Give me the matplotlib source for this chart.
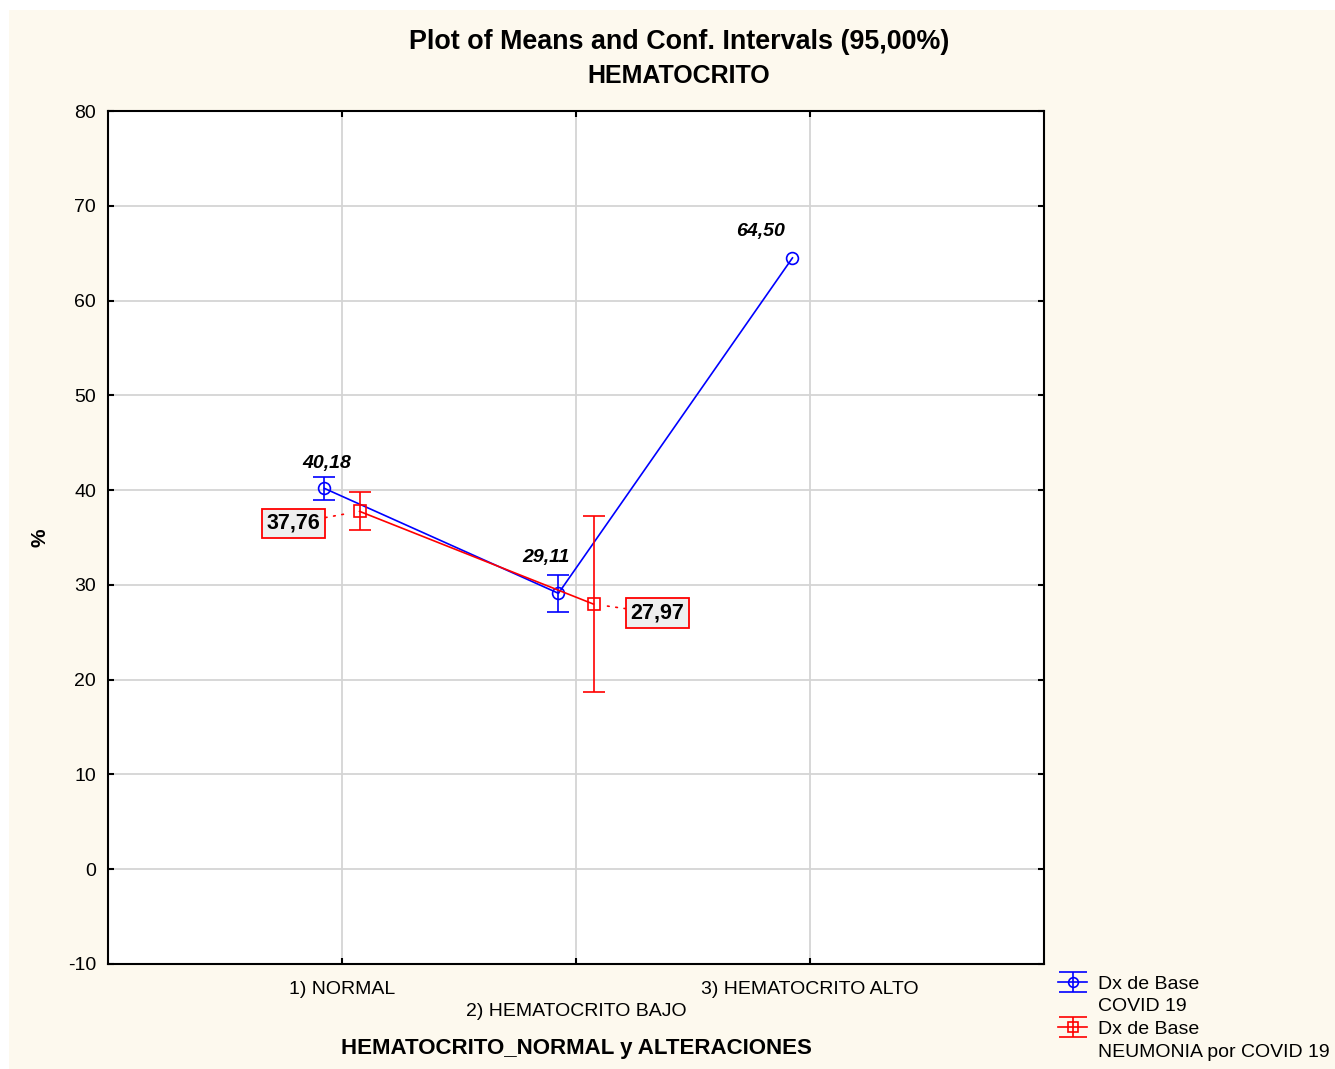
import numpy as np
import matplotlib
matplotlib.use('Agg')
import matplotlib.pyplot as plt
from matplotlib.patches import Rectangle
from matplotlib.lines import Line2D
from matplotlib.legend_handler import HandlerErrorbar

plt.rcParams['font.family'] = ['Liberation Sans', 'DejaVu Sans']
plt.rcParams['axes.unicode_minus'] = False

# data
categories = ['1) NORMAL', '2) HEMATOCRITO BAJO', '3) HEMATOCRITO ALTO']
covid_mean = [40.18, 29.11, 64.50]
covid_ci = [1.20, 1.95, np.nan]   # 95% CI half width (no CI for the last group)
neum_mean = [37.76, 27.97]
neum_ci = [2.02, 9.30]
y_ticks = [-10, 0, 10, 20, 30, 40, 50, 60, 70, 80]

cream = '#fdf9ee'
blue = '#0000ff'
red = '#ff0000'

fig = plt.figure(figsize=(13.35, 10.69), dpi=100)
fig.patches.append(Rectangle((9/1335, -0.01), 1, 1.01 - 10/1069, transform=fig.transFigure,
                             fc=cream, ec='none', zorder=-10))

ax = fig.add_axes([108/1335, 1 - 964/1069, 936/1335, 853/1069])
ax.set_facecolor('white')

x_cov = np.arange(1, len(covid_mean) + 1) - 0.075
x_neu = np.arange(1, len(neum_mean) + 1) + 0.075

ax.errorbar(x_cov, covid_mean, yerr=covid_ci, color=blue, lw=1.2, elinewidth=1.2,
            capsize=8, capthick=1.2, marker='o', ms=8.5, mfc='none', mec=blue,
            mew=1.2, zorder=3)
ax.errorbar(x_neu, neum_mean, yerr=neum_ci, color=red, lw=1.2, elinewidth=1.2,
            capsize=8, capthick=1.2, marker='s', ms=8.5, mfc='none', mec=red,
            mew=1.2, zorder=4)

def fmt(v):
    return f"{v:.2f}".replace('.', ',')

# blue value labels (bold italic, above the points)
blue_offsets = [(2, 25), (-12, 36), (-32, 26)]
for x, y, off in zip(x_cov, covid_mean, blue_offsets):
    ax.annotate(fmt(y), (x, y), xytext=off, textcoords='offset pixels',
                ha='center', va='center', fontsize=14, fontweight='bold',
                fontstyle='italic', color='black', zorder=6)

# red value labels (boxed, joined to the point by a dotted line)
red_offsets = [(-66, -12), (64, -9)]
for x, y, off in zip(x_neu, neum_mean, red_offsets):
    ax.annotate(fmt(y), (x, y), xytext=off, textcoords='offset pixels',
                ha='center', va='center', fontsize=15.5, fontweight='bold',
                color='black', zorder=6,
                bbox=dict(boxstyle='square,pad=0.2', fc='#efefef', ec=red, lw=1.3),
                arrowprops=dict(arrowstyle='-', color=red, lw=1.2,
                                linestyle=(0, (1, 4)), shrinkA=0, shrinkB=9))

ax.set_xlim(0, 4)
ax.set_ylim(-10, 80)
ax.set_yticks(y_ticks)
ax.set_xticks([1, 2, 3])
ax.set_xticklabels([categories[0], '\n' + categories[1], categories[2]])
for lbl in ax.get_xticklabels():
    lbl.set_linespacing(1.4)
ax.grid(True, color='#d4d4d4', lw=1.3)
ax.set_axisbelow(True)
for s in ax.spines.values():
    s.set_linewidth(1.5)
    s.set_color('black')
ax.tick_params(axis='both', direction='in', length=4, width=1.5, labelsize=14,
               right=True, top=True)
ax.tick_params(axis='x', pad=12)
ax.tick_params(axis='y', pad=8.5)

ax.set_xlabel('HEMATOCRITO_NORMAL y ALTERACIONES', fontsize=16, fontweight='bold')
ax.xaxis.set_label_coords(0.5, -0.087)
ax.set_ylabel('%', fontsize=15, fontweight='bold')
ax.yaxis.set_label_coords(-0.062, 0.5)

fig.text(679/1335, 1 - 42/1069, 'Plot of Means and Conf. Intervals (95,00%)',
         ha='center', va='center', fontsize=19.4, fontweight='bold')
fig.text(679/1335, 1 - 76/1069, 'HEMATOCRITO',
         ha='center', va='center', fontsize=18, fontweight='bold')

# legend handles (errorbar style glyphs)
h_cov = ax.errorbar([np.nan], [np.nan], yerr=[1], color=blue, lw=1.2, capsize=10,
                    capthick=1.2, marker='o', ms=7, mfc='none', mec=blue, mew=1.2)
h_neu = ax.errorbar([np.nan], [np.nan], yerr=[1], color=red, lw=1.2, capsize=10,
                    capthick=1.2, marker='s', ms=7, mfc='none', mec=red, mew=1.2)
empty = Line2D([], [], linestyle='none')
fig.legend([h_cov, empty, h_neu, empty],
           ['Dx de Base', 'COVID 19', 'Dx de Base', 'NEUMONIA por COVID 19'],
           loc='upper left', bbox_to_anchor=(1058/1335, 1 - 975/1069),
           frameon=False, fontsize=14, handlelength=1.5, handletextpad=0.55,
           labelspacing=0.26, borderpad=0, borderaxespad=0,
           handler_map={type(h_cov): HandlerErrorbar()})

fig.savefig('out.png', dpi=100, facecolor='white')
